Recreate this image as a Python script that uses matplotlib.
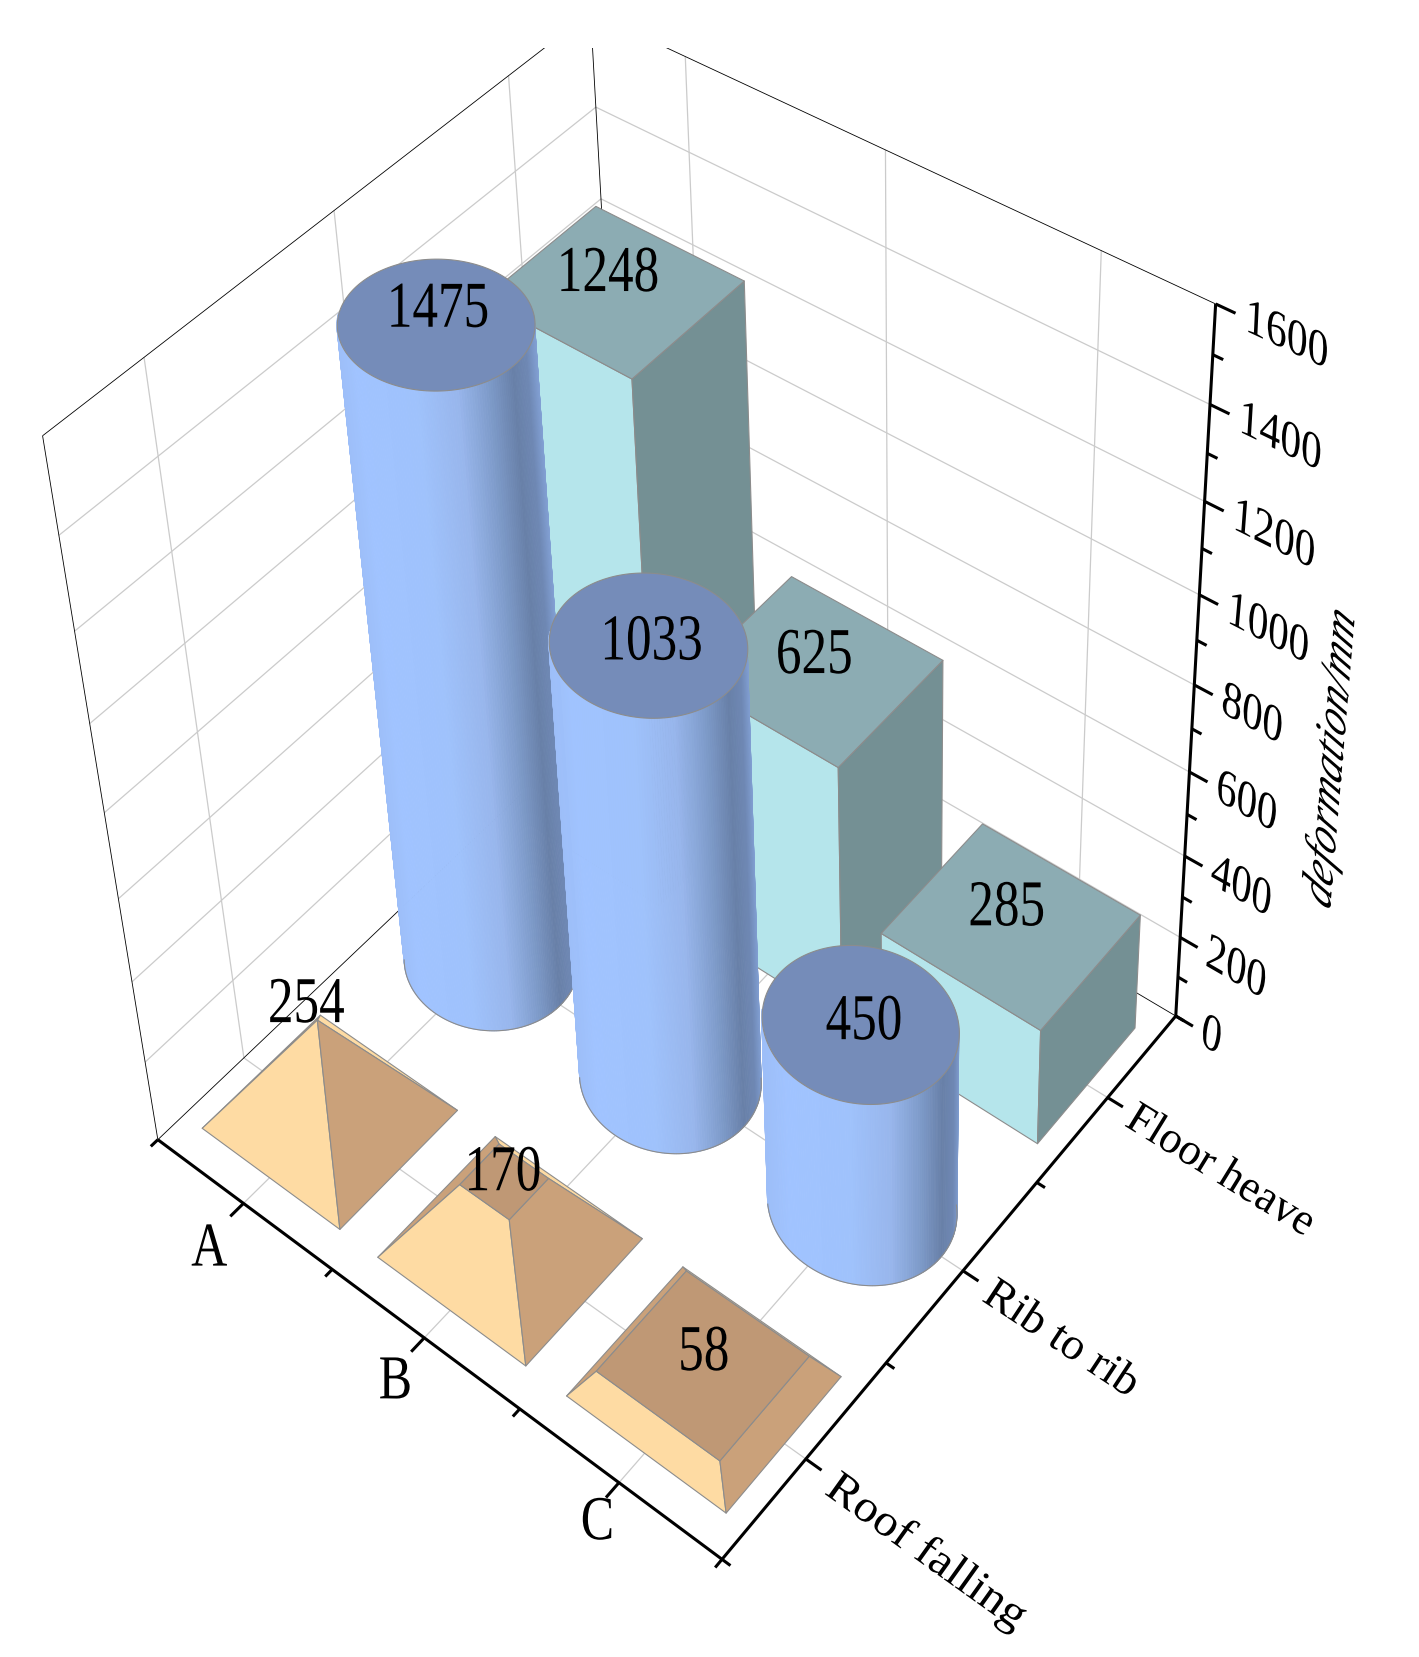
import numpy as np
import matplotlib
matplotlib.use('Agg')
import matplotlib.pyplot as plt
from matplotlib.patches import Rectangle
from matplotlib.patheffects import AbstractPathEffect
from matplotlib.transforms import Affine2D
from mpl_toolkits.mplot3d.art3d import Poly3DCollection

# ---------- data ----------
categories = ['A', 'B', 'C']
series_names = ['Roof falling', 'Rib to rib', 'Floor heave']
roof_falling = [254, 170, 58]
rib_to_rib = [1475, 1033, 450]
floor_heave = [1248, 625, 285]
z_ticks = [0, 200, 400, 600, 800, 1000, 1200, 1400, 1600]
z_title = 'deformation/mm'

# ---------- camera: world (x, y, z) <-> reference pixel landmarks ----------
W, H = 1419, 1658
calib_world = np.array([
    (0, 0, 0), (3, 0, 0), (3, 3, 0), (0, 0, 1600),
    (3, 3, 1600), (3, 3, 1400), (3, 3, 1200), (3, 3, 1000), (3, 3, 800),
    (3, 3, 600), (3, 3, 400), (3, 3, 200),
    (0, 3, 1200), (0, 3, 1400),
    (.5, 0, 0), (1, 0, 0), (1.5, 0, 0), (2, 0, 0), (2.5, 0, 0),
    (3, .5, 0), (3, 1, 0), (3, 1.5, 0), (3, 2, 0), (3, 2.5, 0),
    (0, .5, 1600), (0, 1.5, 1600), (0, 2.5, 1600),
    (.5, 3, 1600), (1.5, 3, 1600), (2.5, 3, 1600)], float)
calib_pixel = np.array([
    (158.3, 1140.7), (720.7, 1558.3), (1175, 1016.5), (42, 436),
    (1216, 302.7), (1210, 404), (1204.7, 500.7), (1199.3, 595), (1194.3, 686),
    (1189.3, 772.7), (1183.3, 856.7), (1179, 937.3),
    (601, 200), (595.7, 108),
    (244, 1202.7), (333.3, 1270), (421, 1343), (521.7, 1408), (618.3, 1481.7),
    (805, 1458.3), (886, 1369), (967.5, 1276), (1038.3, 1181.7), (1106.7, 1099),
    (143.8, 359), (333.8, 211.7), (509, 76.7),
    (685, 53), (886, 158.6), (1102, 254)], float)


def fit_camera(world, pixel):
    rows = []
    for (X, Y, Z), (u, v) in zip(world, pixel):
        Z, u, v = Z / 1000, u / 1000, v / 1000
        rows.append([X, Y, Z, 1, 0, 0, 0, 0, -u * X, -u * Y, -u * Z, -u])
        rows.append([0, 0, 0, 0, X, Y, Z, 1, -v * X, -v * Y, -v * Z, -v])
    P = np.linalg.svd(np.array(rows))[2][-1].reshape(3, 4)
    P[:, 2] /= 1000
    P[:2] *= 1000
    if P[2] @ np.array([1.5, 1.5, 0, 1]) < 0:
        P = -P
    return P / (P[2] @ np.array([1.5, 1.5, 0, 1]))


P = fit_camera(calib_world, calib_pixel)
to_view = np.array([[1 / H, 0, (H - W) / 2 / H], [0, -1 / H, 1], [0, 0, 1]])
PV = to_view @ P
# depth row stays negative over the whole scene (points with positive depth get dropped)
M = np.array([PV[0], PV[1], [-.02, .02, -.00002, -.2], PV[2]])


def project(x, y, z):
    v = PV @ np.array([x, y, z, 1.0])
    return v[0] / v[2], v[1] / v[2]


# ---------- text warp ----------
class GlyphWarp(AbstractPathEffect):
    def __init__(self, sx=1.0, sy=1.0, k=0.0):
        super().__init__()
        self.m = np.array([[sx, k, 0], [0, sy, 0], [0, 0, 1.0]])

    def draw_path(self, renderer, gc, tpath, affine, rgbFace=None):
        b = tpath.get_extents()
        cx, cy = (b.x0 + b.x1) / 2, (b.y0 + b.y1) / 2
        warp = Affine2D().translate(-cx, -cy) + Affine2D(self.m) + Affine2D().translate(cx, cy)
        renderer.draw_path(gc, tpath, warp + affine, rgbFace)


plt.rcParams['font.family'] = ['Liberation Serif', 'DejaVu Serif']
fig = plt.figure(figsize=(W / 100, H / 100), dpi=100, facecolor='white')
ax = fig.add_axes([(W - H) / 2 / W, 0, H / W, 1], projection='3d', computed_zorder=False)
ax.set_axis_off()
ax.patch.set_visible(False)
ax.get_proj = lambda: M

# ---------- colours ----------
GRID = '#cbcbcb'
EDGE = '#8c8c8c'
SQ_FRONT, SQ_SIDE, SQ_TOP = '#b5e5eb', '#749094', '#8cacb3'
PY_FRONT, PY_SIDE, PY_TOP = '#fedba3', '#caa17a', '#bf9875'
CY_TOP = '#758cb9'
stops_t = [0, .10, .40, .60, .75, .88, .95, 1]
stops_c = ['#9dbef8', '#a0c3ff', '#9fc2fc', '#98b6ec', '#7f9ccb', '#6880a8', '#6f88b4', '#82a0d4']
stops_rgb = np.array([matplotlib.colors.to_rgb(c) for c in stops_c])


def line(xs, ys, zs, color='k', lw=0.6, z=1):
    ax.plot(xs, ys, zs, color=color, lw=lw, zorder=z, solid_capstyle='butt')


def face(verts, color, z, edge=EDGE, lw=0.8):
    c = Poly3DCollection([verts], facecolors=color, edgecolors=edge, linewidths=lw, zorder=z)
    ax.add_collection3d(c, autolim=False)


ZMAX = z_ticks[-1]
# gridlines
for u in (.5, 1.5, 2.5):
    line([u, u], [0, 3], [0, 0], GRID, .9)
    line([0, 3], [u, u], [0, 0], GRID, .9)
    line([u, u], [3, 3], [0, ZMAX], GRID, .9)
    line([0, 0], [u, u], [0, ZMAX], GRID, .9)
for t in z_ticks[1:-1]:
    line([0, 3], [3, 3], [t, t], GRID, .9)
    line([0, 0], [0, 3], [t, t], GRID, .9)

# thin frame
line([0, 0], [0, 0], [0, ZMAX], z=2)
line([0, 0], [0, 3], [ZMAX, ZMAX], z=2)
line([0, 3], [3, 3], [ZMAX, ZMAX], z=2)
line([0, 0], [3, 3], [0, ZMAX], z=2)
line([0, 0], [0, 3], [0, 0], z=2)
line([0, 3], [3, 3], [0, 0], z=2)

# thick axes and ticks
AX_LW = 2.2
line([0, 3], [0, 0], [0, 0], 'k', AX_LW, 3)
line([3, 3], [0, 3], [0, 0], 'k', AX_LW, 3)
line([3, 3], [3, 3], [0, ZMAX], 'k', AX_LW, 3)
for i in range(7):
    u = i / 2
    major = i % 2 == 1
    line([u, u], [0, -.075 if major else -.04], [0, 0], 'k', AX_LW, 3)
    line([3, 3.075 if major else 3.04], [u, u], [0, 0], 'k', AX_LW, 3)
for t in range(0, ZMAX + 1, 100):
    line([3, 3.085 if t % 200 == 0 else 3.045], [3, 3], [t, t], 'k', AX_LW, 3)

# ---------- bars ----------
HX, HY = 0.395, 0.35
order = 10
for i, v in enumerate(floor_heave):
    cx, cy = i + .5, 2.5
    x0, x1, y0, y1 = cx - HX, cx + HX, cy - HY, cy + HY
    face([(x0, y0, 0), (x1, y0, 0), (x1, y0, v), (x0, y0, v)], SQ_FRONT, order)
    face([(x1, y0, 0), (x1, y1, 0), (x1, y1, v), (x1, y0, v)], SQ_SIDE, order)
    face([(x0, y0, v), (x1, y0, v), (x1, y1, v), (x0, y1, v)], SQ_TOP, order)
    order += 1

PHI = np.radians(40)
angles = np.radians(np.linspace(-150, 60, 141))
for i, v in enumerate(rib_to_rib):
    cx, cy = i + .5, 1.5
    quads, cols = [], []
    for a0, a1 in zip(angles[:-1], angles[1:]):
        xa, ya = cx + HX * np.cos(a0), cy + HY * np.sin(a0)
        xb, yb = cx + HX * np.cos(a1), cy + HY * np.sin(a1)
        quads.append([(xa, ya, 0), (xb, yb, 0), (xb, yb, v), (xa, ya, v)])
        t = (1 + np.cos((a0 + a1) / 2 - PHI)) / 2
        cols.append([np.interp(t, stops_t, stops_rgb[:, j]) for j in range(3)])
    side = Poly3DCollection(quads, facecolors=cols, edgecolors=cols, linewidths=.6, zorder=order)
    ax.add_collection3d(side, autolim=False)
    arc = np.radians(np.linspace(-140, 40, 91))
    line(cx + HX * np.cos(arc), cy + HY * np.sin(arc), np.zeros(arc.size), EDGE, .8, order)
    ring = np.radians(np.linspace(0, 360, 181)[:-1])
    face(list(zip(cx + HX * np.cos(ring), cy + HY * np.sin(ring), np.full(ring.size, float(v)))),
         CY_TOP, order + 1)
    order += 2

peak = max(roof_falling)
for i, v in enumerate(roof_falling):
    cx, cy = i + .5, .5
    f = 1 - v / peak
    b = [(cx - HX, cy - HY, 0), (cx + HX, cy - HY, 0), (cx + HX, cy + HY, 0), (cx - HX, cy + HY, 0)]
    t = [(cx - f * HX, cy - f * HY, v), (cx + f * HX, cy - f * HY, v),
         (cx + f * HX, cy + f * HY, v), (cx - f * HX, cy + f * HY, v)]
    face([b[2], b[3], t[3], t[2]], PY_FRONT, order)
    face([b[3], b[0], t[0], t[3]], PY_SIDE, order)
    face([b[0], b[1], t[1], t[0]], PY_FRONT, order)
    face([b[1], b[2], t[2], t[1]], PY_SIDE, order)
    if f > 0:
        face(t, PY_TOP, order)
    order += 1

ax.viewLim.intervalx = (0, 1)
ax.viewLim.intervaly = (0, 1)


# ---------- text (placed at the projected position of a world point) ----------
def label(x, y, z, s, size, warp, along=None, **kw):
    px, py = project(x, y, z)
    rot = 0
    if along is not None:
        qx, qy = project(x + along[0], y + along[1], z + along[2])
        rot = np.degrees(np.arctan2(qy - py, qx - px))
    t = ax.text2D(px, py, s, transform=ax.transData, fontsize=size, color='k', zorder=60,
                  rotation=rot, ha=kw.pop('ha', 'center'), va='center',
                  rotation_mode='anchor', clip_on=False, **kw)
    t.set_path_effects([GlyphWarp(*warp)])
    return t


VAL = (.97, 1.24, 0)
floor_nudge_x = [-.05, -.02, -.04]
rib_nudge_z = [32, 8, 8]
roof_nudge_x = [-.054, 0, .01]
roof_nudge_z = [20, 20, 30]
for i, v in enumerate(floor_heave):
    label(i + .5 + floor_nudge_x[i], 2.5 + .03, v + 15, str(v), 38, VAL)
for i, v in enumerate(rib_to_rib):
    label(i + .52, 1.5, v + rib_nudge_z[i], str(v), 38, VAL)
for i, v in enumerate(roof_falling):
    label(i + .5 + roof_nudge_x[i], .5, v + roof_nudge_z[i], str(v), 38, VAL)

cat_y = [-.233, -.207, -.171]
for i, s in enumerate(categories):
    label(i + .54, cat_y[i], 0, s, 36, (1, 1.25, 0))
series_sx = [1.06, 1.01, .98]
series_dx = [.05, .02, 0]
series_dy = [-.015, -.006, -.01]
for i, s in enumerate(series_names):
    label(3.11 + series_dx[i], i + .49 + series_dy[i], 0, s, 33, (series_sx[i], .98, 0),
          along=(1, 0, 0), ha='left')
for t in z_ticks:
    label(3.12, 3, t, str(t), 33, (1, 1.02, -.42), along=(1, 0, 0), ha='left')
label(3.62, 3, 800, z_title, 32, (1, 1, .55), along=(0, 0, 1), style='italic')

# the frame is cut off by the top margin of the picture
fig.add_artist(Rectangle((0, 1 - 49 / H), 1, 49 / H, transform=fig.transFigure,
                         fc='white', ec='none', zorder=5))

fig.savefig('out.png', dpi=100, facecolor='white')
